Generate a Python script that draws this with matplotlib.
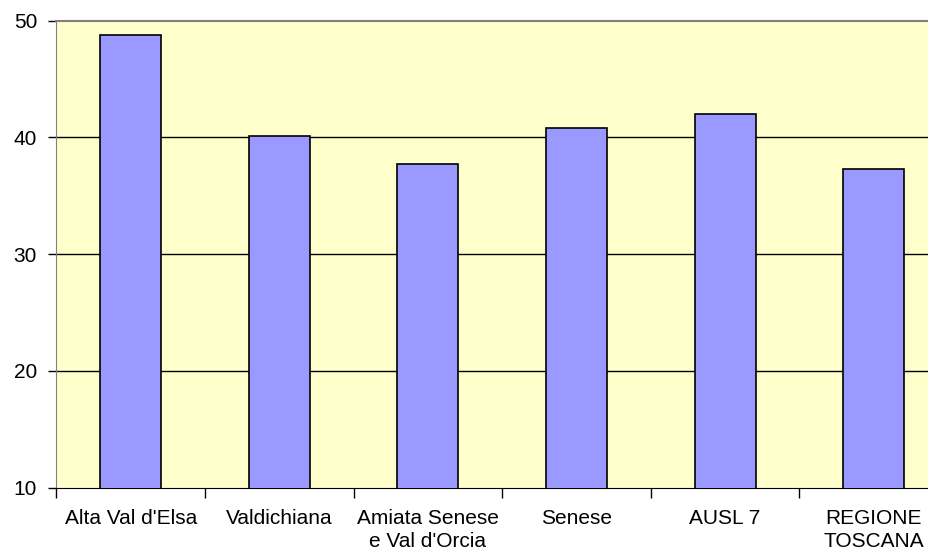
import matplotlib.pyplot as plt
import numpy as np

categories = ["Alta Val d'Elsa", "Valdichiana", "Amiata Senese\ne Val d'Orcia",
              "Senese", "AUSL 7", "REGIONE\nTOSCANA"]
values = [48.8, 40.1, 37.7, 40.8, 42.0, 37.3]
y_ticks = [10, 20, 30, 40, 50]

plt.rcParams["font.family"] = ["Liberation Sans", "DejaVu Sans"]

fig = plt.figure(figsize=(9.29, 5.54), dpi=100)
W, H = 929, 554
left, right, top, bottom = 56.5, 948.0, 20.5, 487.7
ax = fig.add_axes([left / W, 1 - bottom / H, (right - left) / W, (bottom - top) / H])

ax.set_facecolor("#FFFFCC")
x = np.arange(len(categories))
ax.bar(x, values, width=0.41, bottom=0, color="#9999FF", edgecolor="black",
       linewidth=1.2, zorder=3)

ax.set_xlim(-0.5, len(categories) - 0.5)
ax.set_ylim(10, 50)
ax.set_yticks(y_ticks)
ax.set_yticklabels([str(v) for v in y_ticks], fontsize=15)
ax.tick_params(axis="y", length=6, width=1, pad=8, color="black")

# category labels at bar centres, tick marks at category boundaries
ax.set_xticks(x)
ax.set_xticklabels(categories, fontsize=15, linespacing=1.3)
ax.tick_params(axis="x", which="major", length=0, pad=15)
ax.set_xticks(np.arange(-0.5, len(categories), 1.0), minor=True)
ax.tick_params(axis="x", which="minor", length=7, width=1, color="black")

for v in [20, 30, 40]:
    ax.axhline(v, color="black", linewidth=1.0, zorder=2)

ax.spines["left"].set_color("#808080")
ax.spines["top"].set_color("#808080")
ax.spines["top"].set_linewidth(1.5)
ax.spines["bottom"].set_color("black")
ax.spines["right"].set_visible(False)

fig.savefig("out.png", dpi=100)
